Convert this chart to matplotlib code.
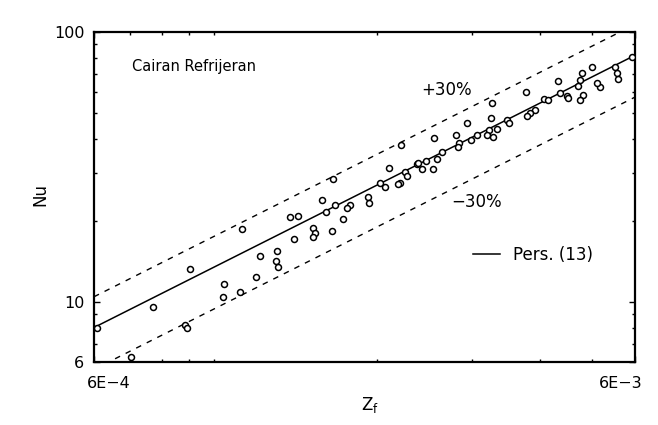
import matplotlib
matplotlib.use("Agg")
import matplotlib.pyplot as plt
import matplotlib.ticker as mticker
import matplotlib.transforms as mtransforms

# DATA
zf = [6.08e-4, 9.02e-4, 7.71e-4, 8.84e-4, 8.91e-4, 7.02e-4, 1.126e-3, 1.382e-3,
      1.430e-3, 1.583e-3, 1.611e-3, 1.524e-3, 1.537e-3, 1.524e-3, 1.405e-3, 1.307e-3,
      1.216e-3, 1.302e-3, 1.313e-3, 1.196e-3, 1.044e-3, 1.117e-3, 1.039e-3, 2.216e-3,
      1.659e-3, 2.106e-3, 2.373e-3, 2.254e-3, 2.273e-3, 2.207e-3, 2.188e-3, 2.027e-3,
      2.071e-3, 1.926e-3, 1.935e-3, 1.784e-3, 1.761e-3, 1.674e-3, 1.731e-3, 1.652e-3,
      3.265e-3, 3.251e-3, 2.935e-3, 3.480e-3, 3.510e-3, 2.551e-3, 2.801e-3, 2.639e-3,
      2.837e-3, 2.825e-3, 2.985e-3, 3.063e-3, 3.223e-3, 3.335e-3, 3.196e-3, 3.279e-3,
      2.383e-3, 2.465e-3, 2.583e-3, 2.423e-3, 2.540e-3, 5.924e-3, 4.995e-3, 4.789e-3,
      4.748e-3, 4.707e-3, 4.322e-3, 5.511e-3, 5.558e-3, 5.581e-3, 5.170e-3, 5.105e-3,
      4.809e-3, 4.748e-3, 4.359e-3, 4.490e-3, 4.509e-3, 4.074e-3, 4.143e-3, 3.774e-3,
      3.921e-3, 3.838e-3, 3.790e-3]
nu = [8.02, 13.26, 9.59, 8.23, 8.02, 6.26, 18.65, 20.65,
      20.8, 23.9, 21.6, 18.8, 18.0, 17.4, 17.1, 15.5,
      14.8, 14.2, 13.5, 12.4, 11.7, 10.9, 10.4, 38.2,
      28.6, 31.4, 32.5, 30.3, 29.3, 27.6, 27.4, 27.6,
      26.7, 24.5, 23.3, 22.9, 22.3, 22.9, 20.3, 18.3,
      54.6, 48.0, 46.0, 47.2, 46.0, 40.5, 41.6, 36.0,
      38.8, 37.5, 39.8, 41.6, 43.4, 43.7, 41.6, 40.9,
      32.7, 33.3, 33.9, 31.1, 31.1, 80.8, 74.2, 70.5,
      66.4, 63.1, 65.9, 74.2, 70.5, 67.0, 62.6, 64.8,
      58.4, 56.0, 59.5, 58.0, 57.0, 56.5, 56.0, 60.0,
      51.4, 50.1, 48.9]

# correlation line (Pers. 13) and +/-30% band
corr_z = [6e-4, 6e-3]
corr_nu = [8.05, 82.0]
band_plus = 1.3
band_minus = 0.7

# FIGURE
fig = plt.figure(figsize=(6.58, 4.25), dpi=100)
ax = fig.add_axes([94/658, 1 - 362/425, 541/658, 330/425])

ax.plot(zf, nu, "o", ms=4.3, mfc="white", mec="black", mew=1.1, zorder=3)
line, = ax.plot(corr_z, corr_nu, "-", color="black", lw=1.1, label="Pers. (13)")
ax.plot(corr_z, [v * band_plus for v in corr_nu], color="black", lw=1.0,
        ls=(0, (4, 4.5)))
ax.plot(corr_z, [v * band_minus for v in corr_nu], color="black", lw=1.0,
        ls=(0, (4, 4.5)))

ax.set_xscale("log")
ax.set_yscale("log")
ax.set_xlim(6e-4, 6e-3)
ax.set_ylim(6, 100)

# ticks
ax.xaxis.set_major_locator(mticker.FixedLocator([6e-4, 6e-3]))
ax.xaxis.set_major_formatter(mticker.FixedFormatter(["6E\u22124", "6E\u22123"]))
ax.xaxis.set_minor_locator(mticker.LogLocator(base=10, subs=range(1, 10)))
ax.xaxis.set_minor_formatter(mticker.NullFormatter())
ax.yaxis.set_major_locator(mticker.FixedLocator([6, 10, 100]))
ax.yaxis.set_major_formatter(mticker.FixedFormatter(["6", "10", "100"]))
ax.yaxis.set_minor_locator(mticker.LogLocator(base=10, subs=range(1, 10)))
ax.yaxis.set_minor_formatter(mticker.NullFormatter())
ax.tick_params(which="both", direction="in", top=True, right=True,
               labelsize=11.5, width=1.0)
ax.tick_params(which="major", length=4)
ax.tick_params(which="minor", length=2.5)
ax.tick_params(axis="x", pad=10)
ax.tick_params(axis="y", pad=7)

xlabels = ax.get_xticklabels()
xlabels[0].set_ha("left")
xlabels[0].set_transform(xlabels[0].get_transform() +
                         mtransforms.ScaledTranslation(-7/100, 0, fig.dpi_scale_trans))
xlabels[1].set_ha("right")
xlabels[1].set_transform(xlabels[1].get_transform() +
                         mtransforms.ScaledTranslation(8/100, 0, fig.dpi_scale_trans))

for s in ax.spines.values():
    s.set_linewidth(1.6)

# texts
fig.text(132/658, 1 - 67/425, "Cairan Refrijeran", fontsize=10.5, va="center")
fig.text(447/658, 1 - 90/425, "+30%", fontsize=12, ha="center", va="center")
fig.text(477/658, 1 - 202/425, "\u221230%", fontsize=12, ha="center", va="center")
fig.text(40/658, 1 - 195/425, "Nu", fontsize=12, rotation=90, ha="center", va="center")
fig.text(370/658, 1 - 405/425, "Z$_\\mathregular{f}$", fontsize=12, ha="center", va="center")

ax.legend(handles=[line], loc="center left", bbox_to_anchor=(465/658, 1 - 255/425),
          bbox_transform=fig.transFigure, frameon=False, fontsize=12,
          borderpad=0, handlelength=1.6, handletextpad=0.8)

fig.savefig("out.png", dpi=100)
